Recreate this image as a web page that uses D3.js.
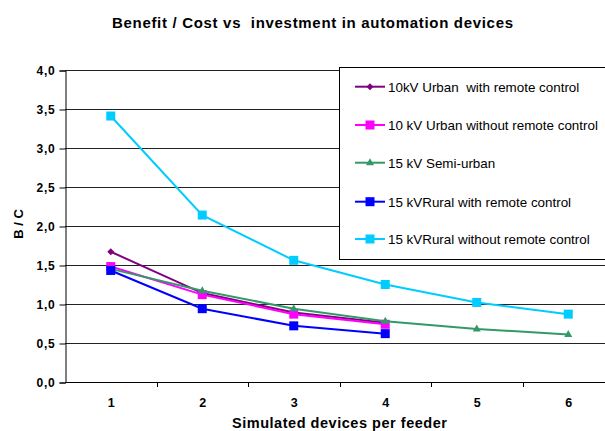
<!DOCTYPE html>
<html><head><meta charset="utf-8">
<script src="https://cdn.jsdelivr.net/npm/d3@7"></script>
<style>body{margin:0;background:#fff;} svg{display:block;font-family:"Liberation Sans",Arial,sans-serif;}</style>
</head><body>
<svg id="c" width="605" height="431"></svg>
<script>
const categories = [1, 2, 3, 4, 5, 6];
const yTicks = [0, 0.5, 1, 1.5, 2, 2.5, 3, 3.5, 4];
const seriesNames = [
  "10kV Urban  with remote control",
  "10 kV Urban without remote control",
  "15 kV Semi-urban",
  "15 kVRural with remote control",
  "15 kVRural without remote control"
];
const urbanRemote = [1.67, 1.14, 0.89, 0.76];
const urbanNoRemote = [1.48, 1.12, 0.87, 0.74];
const semiUrban = [1.45, 1.17, 0.94, 0.78, 0.68, 0.61];
const ruralRemote = [1.43, 0.94, 0.72, 0.62];
const ruralNoRemote = [3.41, 2.14, 1.56, 1.25, 1.02, 0.87];
const colors = ["#800080", "#FF00FF", "#339966", "#0000FF", "#00CCFF"];
const markers = ["diamond", "square", "triangle", "square", "square"];
const seriesValues = [urbanRemote, urbanNoRemote, semiUrban, ruralRemote, ruralNoRemote];

(function () {
const svg = d3.select("#c");
const pl = 65, pr = 614, pt = 70, pb = 382;
const x = d3.scaleBand().domain(categories).range([pl, pr]);
const y = d3.scaleLinear().domain([0, 4]).range([pb, pt]);

// gridlines
svg.append("g").selectAll("line").data(yTicks.filter(d => d > 0)).join("line")
  .attr("x1", pl).attr("x2", pr)
  .attr("y1", d => Math.round(y(d)) + 0.5).attr("y2", d => Math.round(y(d)) + 0.5)
  .attr("stroke", "#222").attr("stroke-width", 1);

// y axis
const fmt = d => d3.format(".1f")(d).replace(".", ",");
const yAxis = svg.append("g").attr("transform", `translate(${pl + 0.5},0.5)`)
  .call(d3.axisLeft(y).tickValues(yTicks).tickFormat(fmt).tickSize(6).tickPadding(4));
yAxis.selectAll("text").attr("font-size", 12).attr("font-weight", "bold").attr("fill", "#000")
  .attr("letter-spacing", 0.8)
  .attr("font-family", "Liberation Sans, Arial, sans-serif");
yAxis.selectAll("line,path").attr("stroke", "#000");

// x axis
const xAxis = svg.append("g").attr("transform", `translate(0.5,${pb + 0.5})`)
  .call(d3.axisBottom(x).tickSize(0).tickPadding(16));
xAxis.selectAll("text").attr("font-size", 12.5).attr("font-weight", "bold").attr("fill", "#000")
  .attr("font-family", "Liberation Sans, Arial, sans-serif");
xAxis.select("path").attr("stroke", "#000").attr("d", `M${pl},0H${pr}`);
xAxis.selectAll(".tick line").remove();
svg.append("g").selectAll("line").data(categories.slice(1)).join("line")
  .attr("x1", d => Math.round(x(d)) + 0.5).attr("x2", d => Math.round(x(d)) + 0.5)
  .attr("y1", pb).attr("y2", pb + 5).attr("stroke", "#000");

// lines
const line = d3.line().x((d, i) => x(categories[i]) + x.bandwidth() / 2).y(d => y(d));
function marker(g, type, cx, cy, color) {
  if (type === "square") {
    g.append("rect").attr("x", cx - 4.5).attr("y", cy - 4.5).attr("width", 9).attr("height", 9).attr("fill", color);
  } else if (type === "diamond") {
    g.append("path").attr("d", `M${cx},${cy - 3.5}L${cx + 3.5},${cy}L${cx},${cy + 3.5}L${cx - 3.5},${cy}Z`).attr("fill", color);
  } else {
    g.append("path").attr("d", `M${cx},${cy - 4.5}L${cx + 4},${cy + 2.5}L${cx - 4},${cy + 2.5}Z`).attr("fill", color);
  }
}
seriesValues.forEach((vals, s) => {
  const g = svg.append("g");
  g.append("path").attr("d", line(vals)).attr("fill", "none").attr("stroke", colors[s]).attr("stroke-width", 2);
  vals.forEach((v, i) => marker(g, markers[s], x(categories[i]) + x.bandwidth() / 2, y(v), colors[s]));
});

// legend
const lg = svg.append("g");
lg.append("rect").attr("x", 339.5).attr("y", 67.5).attr("width", 300).attr("height", 192)
  .attr("fill", "#fff").attr("stroke", "#000").attr("stroke-width", 1);
const legY = [86.7, 125, 162.7, 201.7, 239];
seriesNames.forEach((name, s) => {
  const yy = legY[s];
  lg.append("line").attr("x1", 355).attr("x2", 385).attr("y1", yy).attr("y2", yy)
    .attr("stroke", colors[s]).attr("stroke-width", 2);
  marker(lg, markers[s], 370, yy, colors[s]);
  lg.append("text").attr("x", 388).attr("y", yy + 4.8).attr("font-size", 13.4).attr("fill", "#000")
    .style("white-space", "pre").text(name);
});

// titles
svg.append("text").attr("x", 312.5).attr("y", 28).attr("text-anchor", "middle")
  .attr("font-size", 15).attr("font-weight", "bold")
  .attr("textLength", 401).attr("lengthAdjust", "spacing")
  .style("white-space", "pre").text("Benefit / Cost vs  investment in automation devices");
svg.append("text").attr("x", 339.5).attr("y", 428).attr("text-anchor", "middle")
  .attr("font-size", 14.5).attr("font-weight", "bold")
  .attr("textLength", 215).attr("lengthAdjust", "spacing")
  .text("Simulated devices per feeder");
svg.append("text").attr("transform", "translate(23,224) rotate(-90)").attr("text-anchor", "middle")
  .attr("font-size", 13).attr("font-weight", "bold").text("B / C");
})();
</script>
</body></html>
